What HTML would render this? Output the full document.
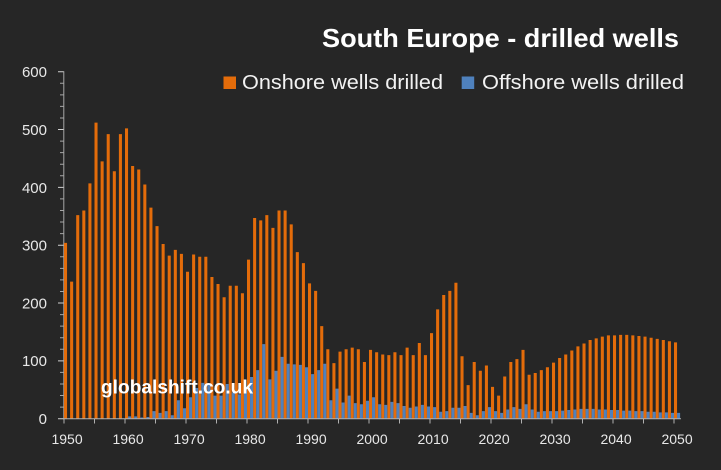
<!DOCTYPE html>
<html><head><meta charset="utf-8"><style>
html,body{margin:0;padding:0;background:#262626;}
svg{display:block;font-family:"Liberation Sans",sans-serif;}
</style></head><body>
<svg width="721" height="470" viewBox="0 0 721 470" xmlns="http://www.w3.org/2000/svg">
<rect width="721" height="470" fill="#262626"/>
<text x="322" y="47" font-size="26" font-weight="bold" fill="#ffffff" textLength="357" lengthAdjust="spacingAndGlyphs">South Europe - drilled wells</text>
<rect x="223.5" y="76.5" width="12.5" height="12.5" fill="#E46C0A"/>
<text x="242" y="89" font-size="20.5" fill="#f2f2f2" textLength="201" lengthAdjust="spacingAndGlyphs">Onshore wells drilled</text>
<rect x="461.7" y="76.5" width="12.5" height="12.5" fill="#4F81BD"/>
<text x="482" y="89" font-size="20.5" fill="#f2f2f2" textLength="202" lengthAdjust="spacingAndGlyphs">Offshore wells drilled</text>
<g font-size="15" fill="#e8e8e8" text-anchor="end">
<text x="47" y="77.2">600</text>
<text x="47" y="135">500</text>
<text x="47" y="192.8">400</text>
<text x="47" y="250.6">300</text>
<text x="47" y="308.4">200</text>
<text x="47" y="366.2">100</text>
<text x="47" y="424">0</text>
</g>
<g font-size="14" fill="#e8e8e8" text-anchor="middle">
<text x="67.05" y="444">1950</text>
<text x="128.05" y="444">1960</text>
<text x="189.05" y="444">1970</text>
<text x="250.05" y="444">1980</text>
<text x="311.05" y="444">1990</text>
<text x="372.05" y="444">2000</text>
<text x="433.05" y="444">2010</text>
<text x="494.05" y="444">2020</text>
<text x="555.05" y="444">2030</text>
<text x="616.05" y="444">2040</text>
<text x="677.05" y="444">2050</text>
</g>
<g stroke="#a6a6a6" stroke-width="1" fill="none">
<line x1="63.8" y1="71.2" x2="63.8" y2="419"/>
<path d="M60 83.27H63.5M60 94.83H63.5M60 106.4H63.5M60 117.96H63.5M60 141.1H63.5M60 152.66H63.5M60 164.23H63.5M60 175.79H63.5M60 198.93H63.5M60 210.49H63.5M60 222.06H63.5M60 233.62H63.5M60 256.76H63.5M60 268.32H63.5M60 279.89H63.5M60 291.45H63.5M60 314.59H63.5M60 326.15H63.5M60 337.72H63.5M60 349.28H63.5M60 372.42H63.5M60 383.98H63.5M60 395.55H63.5M60 407.11H63.5"/>
</g>
<g stroke="#d0d0d0" stroke-width="1" fill="none">
<path d="M58 71.7H63.5M58 129.53H63.5M58 187.36H63.5M58 245.19H63.5M58 303.02H63.5M58 360.85H63.5M58 418.7H63.5"/>
</g>
<g transform="translate(64,418.7) scale(6.1,-0.5783)">
<path fill="#E46C0A" d="M0 0h.5v304h-.5zM1 0h.5v237h-.5zM2 0h.5v352h-.5zM3 0h.5v360h-.5zM4 0h.5v407h-.5zM5 0h.5v512h-.5zM6 0h.5v445h-.5zM7 0h.5v492h-.5zM8 0h.5v428h-.5zM9 0h.5v492h-.5zM10 0h.5v502h-.5zM11 0h.5v437h-.5zM12 0h.5v431h-.5zM13 0h.5v405h-.5zM14 0h.5v365h-.5zM15 0h.5v333h-.5zM16 0h.5v302h-.5zM17 0h.5v282h-.5zM18 0h.5v292h-.5zM19 0h.5v285h-.5zM20 0h.5v254h-.5zM21 0h.5v284h-.5zM22 0h.5v280h-.5zM23 0h.5v280h-.5zM24 0h.5v245h-.5zM25 0h.5v233h-.5zM26 0h.5v210h-.5zM27 0h.5v230h-.5zM28 0h.5v230h-.5zM29 0h.5v217h-.5zM30 0h.5v275h-.5zM31 0h.5v347h-.5zM32 0h.5v343h-.5zM33 0h.5v352h-.5zM34 0h.5v330h-.5zM35 0h.5v360h-.5zM36 0h.5v360h-.5zM37 0h.5v336h-.5zM38 0h.5v288h-.5zM39 0h.5v269h-.5zM40 0h.5v234h-.5zM41 0h.5v221h-.5zM42 0h.5v160h-.5zM43 0h.5v120h-.5zM44 0h.5v96h-.5zM45 0h.5v116h-.5zM46 0h.5v120h-.5zM47 0h.5v123h-.5zM48 0h.5v120h-.5zM49 0h.5v98h-.5zM50 0h.5v119h-.5zM51 0h.5v115h-.5zM52 0h.5v111h-.5zM53 0h.5v110h-.5zM54 0h.5v115h-.5zM55 0h.5v110h-.5zM56 0h.5v123h-.5zM57 0h.5v110h-.5zM58 0h.5v131h-.5zM59 0h.5v110h-.5zM60 0h.5v148h-.5zM61 0h.5v189h-.5zM62 0h.5v214h-.5zM63 0h.5v221h-.5zM64 0h.5v235h-.5zM65 0h.5v108h-.5zM66 0h.5v58h-.5zM67 0h.5v98h-.5zM68 0h.5v83h-.5zM69 0h.5v92h-.5zM70 0h.5v55h-.5zM71 0h.5v40h-.5zM72 0h.5v73h-.5zM73 0h.5v98h-.5zM74 0h.5v103h-.5zM75 0h.5v119h-.5zM76 0h.5v76h-.5zM77 0h.5v79h-.5zM78 0h.5v84h-.5zM79 0h.5v89h-.5zM80 0h.5v97h-.5zM81 0h.5v105h-.5zM82 0h.5v111h-.5zM83 0h.5v118h-.5zM84 0h.5v125h-.5zM85 0h.5v130h-.5zM86 0h.5v136h-.5zM87 0h.5v139h-.5zM88 0h.5v142h-.5zM89 0h.5v144h-.5zM90 0h.5v144h-.5zM91 0h.5v145h-.5zM92 0h.5v145h-.5zM93 0h.5v144h-.5zM94 0h.5v143h-.5zM95 0h.5v142h-.5zM96 0h.5v140h-.5zM97 0h.5v138h-.5zM98 0h.5v136h-.5zM99 0h.5v134h-.5zM100 0h.5v132h-.5z"/>
<path fill="#4F81BD" d="M10.5 0h.5v4h-.5zM11.5 0h.5v4h-.5zM12.5 0h.5v2h-.5zM13.5 0h.5v3h-.5zM14.5 0h.5v13h-.5zM15.5 0h.5v10h-.5zM16.5 0h.5v13h-.5zM17.5 0h.5v6h-.5zM18.5 0h.5v32h-.5zM19.5 0h.5v18h-.5zM20.5 0h.5v37h-.5zM21.5 0h.5v53h-.5zM22.5 0h.5v62h-.5zM23.5 0h.5v60h-.5zM24.5 0h.5v40h-.5zM25.5 0h.5v40h-.5zM26.5 0h.5v60h-.5zM27.5 0h.5v45h-.5zM28.5 0h.5v42h-.5zM29.5 0h.5v55h-.5zM30.5 0h.5v72h-.5zM31.5 0h.5v84h-.5zM32.5 0h.5v129h-.5zM33.5 0h.5v68h-.5zM34.5 0h.5v83h-.5zM35.5 0h.5v107h-.5zM36.5 0h.5v95h-.5zM37.5 0h.5v94h-.5zM38.5 0h.5v93h-.5zM39.5 0h.5v89h-.5zM40.5 0h.5v77h-.5zM41.5 0h.5v84h-.5zM42.5 0h.5v95h-.5zM43.5 0h.5v32h-.5zM44.5 0h.5v52h-.5zM45.5 0h.5v28h-.5zM46.5 0h.5v40h-.5zM47.5 0h.5v27h-.5zM48.5 0h.5v25h-.5zM49.5 0h.5v31h-.5zM50.5 0h.5v37h-.5zM51.5 0h.5v25h-.5zM52.5 0h.5v24h-.5zM53.5 0h.5v29h-.5zM54.5 0h.5v27h-.5zM55.5 0h.5v22h-.5zM56.5 0h.5v19h-.5zM57.5 0h.5v21h-.5zM58.5 0h.5v24h-.5zM59.5 0h.5v21h-.5zM60.5 0h.5v20h-.5zM61.5 0h.5v12h-.5zM62.5 0h.5v13h-.5zM63.5 0h.5v19h-.5zM64.5 0h.5v19h-.5zM65.5 0h.5v22h-.5zM66.5 0h.5v10h-.5zM67.5 0h.5v6h-.5zM68.5 0h.5v13h-.5zM69.5 0h.5v20h-.5zM70.5 0h.5v13h-.5zM71.5 0h.5v10h-.5zM72.5 0h.5v16h-.5zM73.5 0h.5v20h-.5zM74.5 0h.5v17h-.5zM75.5 0h.5v25h-.5zM76.5 0h.5v16h-.5zM77.5 0h.5v12h-.5zM78.5 0h.5v13h-.5zM79.5 0h.5v13h-.5zM80.5 0h.5v13h-.5zM81.5 0h.5v14h-.5zM82.5 0h.5v15h-.5zM83.5 0h.5v16h-.5zM84.5 0h.5v17h-.5zM85.5 0h.5v17h-.5zM86.5 0h.5v17h-.5zM87.5 0h.5v16h-.5zM88.5 0h.5v16h-.5zM89.5 0h.5v15h-.5zM90.5 0h.5v15h-.5zM91.5 0h.5v14h-.5zM92.5 0h.5v14h-.5zM93.5 0h.5v13h-.5zM94.5 0h.5v13h-.5zM95.5 0h.5v12h-.5zM96.5 0h.5v12h-.5zM97.5 0h.5v11h-.5zM98.5 0h.5v11h-.5zM99.5 0h.5v10h-.5zM100.5 0h.5v10h-.5z"/>
</g>
<g stroke="#b0b0b0" stroke-width="1" fill="none">
<line x1="63" y1="418.7" x2="681" y2="418.7"/>
<path d="M64 418.7V423.5M94.5 418.7V423.5M125 418.7V423.5M155.5 418.7V423.5M186 418.7V423.5M216.5 418.7V423.5M247 418.7V423.5M277.5 418.7V423.5M308 418.7V423.5M338.5 418.7V423.5M369 418.7V423.5M399.5 418.7V423.5M430 418.7V423.5M460.5 418.7V423.5M491 418.7V423.5M521.5 418.7V423.5M552 418.7V423.5M582.5 418.7V423.5M613 418.7V423.5M643.5 418.7V423.5M674 418.7V423.5"/>
</g>
<text x="101" y="393.3" font-size="19" font-weight="bold" fill="#ffffff" textLength="152" lengthAdjust="spacingAndGlyphs">globalshift.co.uk</text>
</svg>
</body></html>
